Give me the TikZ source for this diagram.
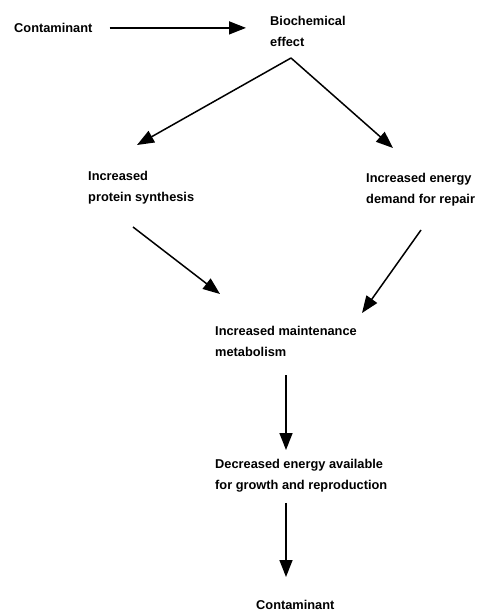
\documentclass[tikz,border=0pt]{standalone}
\usepackage{fontspec}
\setmainfont{Liberation Sans}
\usetikzlibrary{arrows.meta}
\begin{document}
\begin{tikzpicture}[x=1pt,y=-1pt,
  txt/.style={font=\bfseries\fontsize{12.8}{21.5}\selectfont, align=left, inner sep=0pt, anchor=north west},
  arr/.style={line width=1.5pt, -{Triangle[length=17pt,width=13pt]}}]
\useasboundingbox (0,0) rectangle (478,612);
\node[txt] (c1)  at (14,23)  {Contaminant};
\node[txt] (bio) at (270,16) {Biochemical\\effect};
\node[txt] (ps)  at (88,171) {Increased\\protein synthesis};
\node[txt] (ed)  at (366,173) {Increased energy\\demand for repair};
\node[txt] (mm)  at (215,326) {Increased maintenance\\metabolism};
\node[txt] (de)  at (215,459) {Decreased energy available\\for growth and reproduction};
\node[txt] (c2)  at (256,600) {Contaminant};
% named coordinates for connector ends
\coordinate (v)    at (291,58);
\coordinate (psin) at (137,145);
\coordinate (edin) at (393,148);
\coordinate (psout) at (133,227);
\coordinate (mmin1) at (220,294);
\coordinate (edout) at (421,230);
\coordinate (mmin2) at (362,313);
\coordinate (vx) at (286,0);
% connectors
\draw[arr, shorten <=17pt, shorten >=24pt] (c1.east) -- (c1.east -| bio.west);
\draw[arr] (v) -- (psin);
\draw[arr] (v) -- (edin);
\draw[arr] (psout) -- (mmin1);
\draw[arr] (edout) -- (mmin2);
\draw[arr, shorten <=18pt, shorten >=9pt] (vx |- mm.south) -- (vx |- de.north);
\draw[arr, shorten <=10pt, shorten >=23pt] (vx |- de.south) -- (vx |- c2.north);
\end{tikzpicture}
\end{document}
